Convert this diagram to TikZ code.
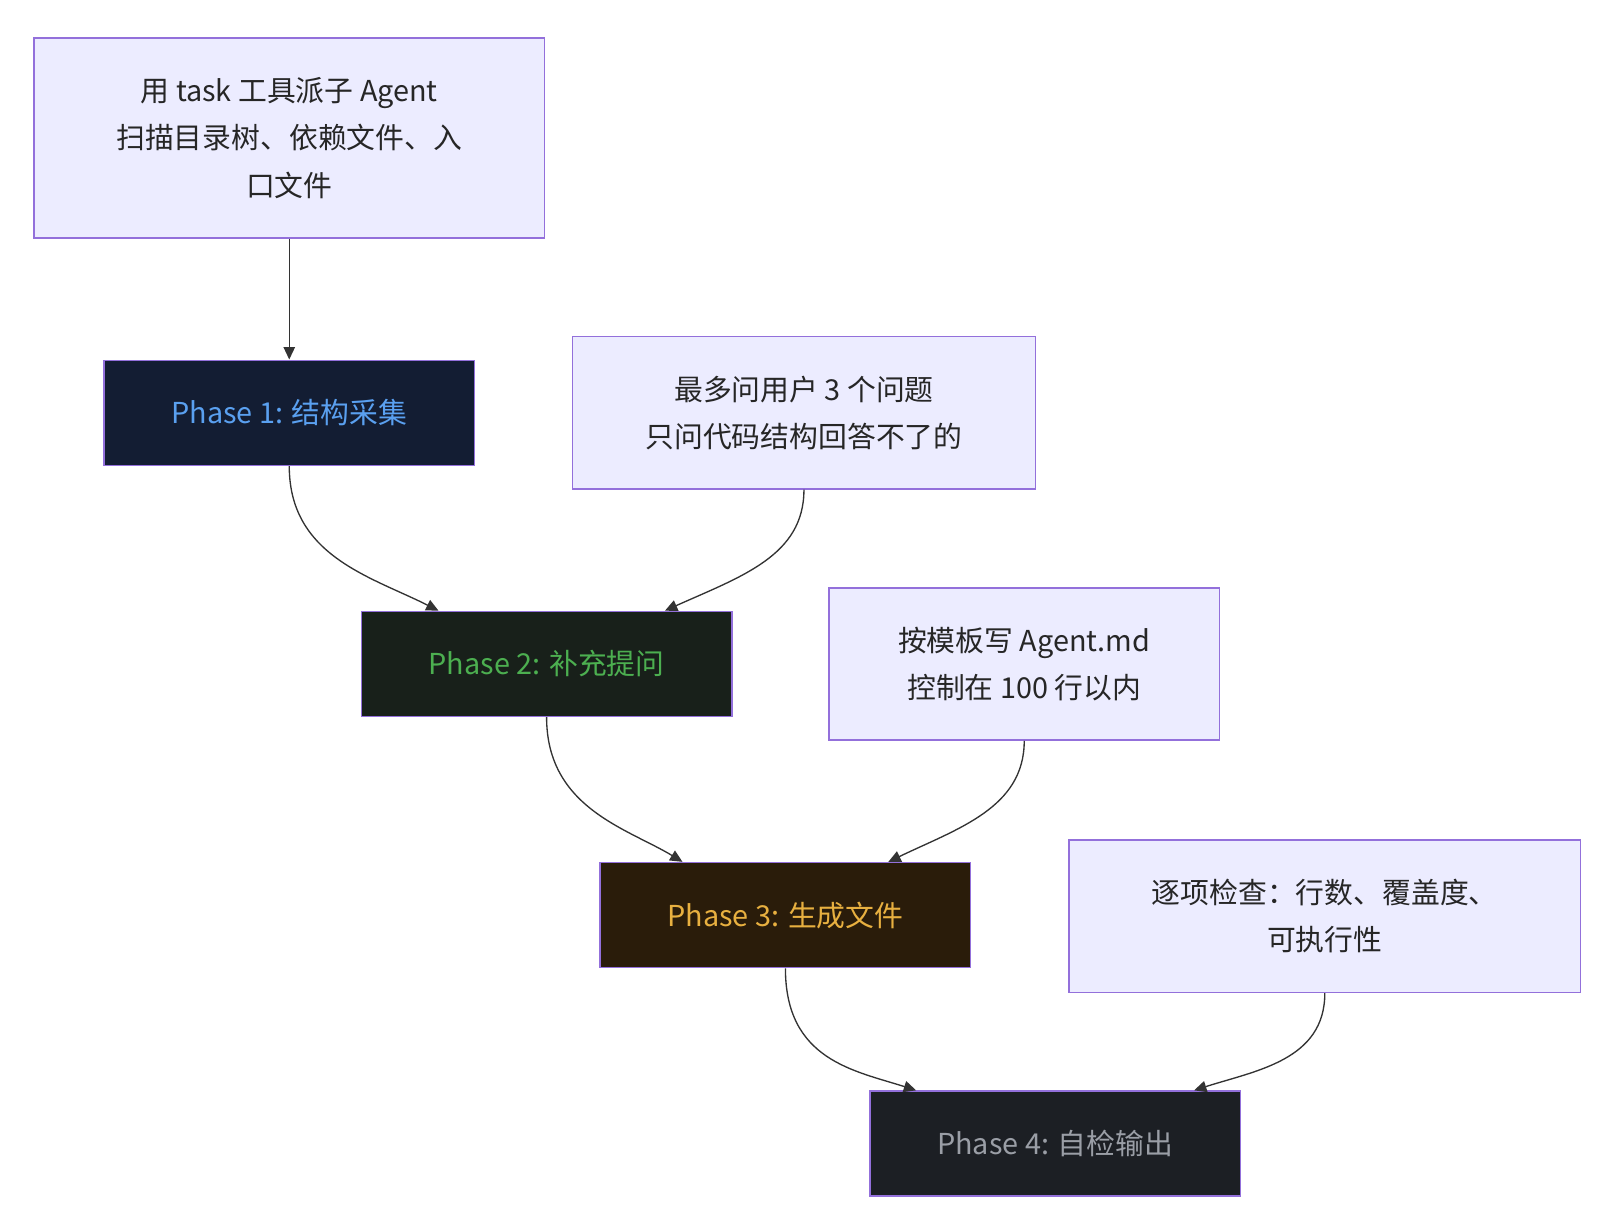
\documentclass[tikz,border=0pt]{standalone}
\usepackage{fontspec}
\setmainfont{Noto Sans CJK SC}
\usetikzlibrary{arrows.meta}
\definecolor{nfill}{HTML}{ECECFF}
\definecolor{nbord}{HTML}{9370DB}
\definecolor{f1}{HTML}{131D33}\definecolor{t1}{HTML}{5AA0F0}
\definecolor{f2}{HTML}{18201A}\definecolor{t2}{HTML}{4CAF50}
\definecolor{f3}{HTML}{2A1C0A}\definecolor{t3}{HTML}{E8B040}
\definecolor{f4}{HTML}{1C1F24}\definecolor{t4}{HTML}{9A9EA6}
\tikzset{
 note/.style={draw=nbord,fill=nfill,line width=1.5pt,align=center,font=\fontsize{28}{46}\selectfont,text=black!85,inner sep=0pt},
 phase/.style={draw=nbord,line width=1.5pt,minimum width=360pt,minimum height=102pt,font=\fontsize{28}{34}\selectfont,inner sep=0pt},
 arr/.style={draw=black!80,line width=1.3pt,-{Triangle[length=12pt,width=11pt]}}
}
\begin{document}
\begin{tikzpicture}[x=1pt,y=-1pt]
\useasboundingbox (0,0) rectangle (1566,1183);
\node[note,minimum width=496pt,minimum height=194pt] (n1) at (281,134) {用 task 工具派子 Agent\\扫描目录树、依赖文件、入\\口文件};
\node[phase,fill=f1,text=t1] (p1) at (281,401) {Phase 1: 结构采集};
\node[note,minimum width=450pt,minimum height=148pt] (q) at (781,401) {最多问用户 3 个问题\\只问代码结构回答不了的};
\node[phase,fill=f2,text=t2] (p2) at (531,645) {Phase 2: 补充提问};
\node[note,minimum width=379pt,minimum height=148pt] (t) at (995,645) {按模板写 Agent.md\\控制在 100 行以内};
\node[phase,fill=f3,text=t3] (p3) at (763,889) {Phase 3: 生成文件};
\node[note,minimum width=497pt,minimum height=148pt] (c) at (1287,890) {逐项检查：行数、覆盖度、\\可执行性};
\node[phase,fill=f4,text=t4] (p4) at (1025,1111) {Phase 4: 自检输出};
\draw[arr] (n1.south) -- (p1.north);
\draw[arr] (p1.south) .. controls (281,540) and (360,560) .. ([xshift=-105pt]p2.north);
\draw[arr] (q.south) .. controls (781,540) and (720,560) .. ([xshift=115pt]p2.north);
\draw[arr] (p2.south) .. controls (531,785) and (610,805) .. ([xshift=-100pt]p3.north);
\draw[arr] (t.south) .. controls (995,785) and (930,805) .. ([xshift=100pt]p3.north);
\draw[arr] (p3.south) .. controls (763,1030) and (830,1040) .. ([xshift=-135pt]p4.north);
\draw[arr] (c.south) .. controls (1287,1030) and (1220,1040) .. ([xshift=135pt]p4.north);
\end{tikzpicture}
\end{document}
